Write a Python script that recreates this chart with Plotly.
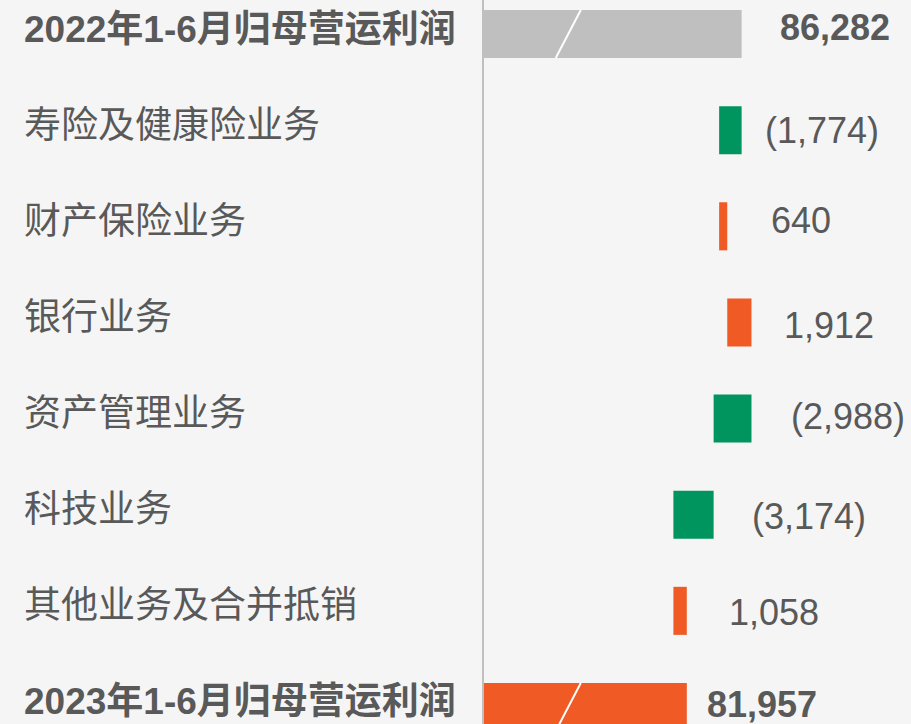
import plotly.graph_objects as go

# data (RMB million)
categories = [
    "2022年1-6月归母营运利润",
    "寿险及健康险业务",
    "财产保险业务",
    "银行业务",
    "资产管理业务",
    "科技业务",
    "其他业务及合并抵销",
    "2023年1-6月归母营运利润",
]
values = [86282, -1774, 640, 1912, -2988, -3174, 1058, 81957]
measures = ["total", "relative", "relative", "relative", "relative", "relative", "relative", "total"]
value_labels = ["86,282", "(1,774)", "640", "1,912", "(2,988)", "(3,174)", "1,058", "81,957"]

GRAY = "#BFBFBF"
GREEN = "#00945E"
ORANGE = "#F05A24"
TEXT = "#595959"
X_RANGE = [65950, 99650]
BREAK_AT = 72600  # where the broken-axis slash sits on the total bars

# build bases / lengths for a waterfall made of floating bars
bases, lengths, colors = [], [], []
running = 0
for i, (v, m) in enumerate(zip(values, measures)):
    if m == "total":
        bases.append(0)
        lengths.append(v)
        colors.append(GRAY if i == 0 else ORANGE)
        running = v
    else:
        bases.append(running)
        lengths.append(v)
        colors.append(ORANGE if v > 0 else GREEN)
        running += v

fig = go.Figure(go.Bar(
    y=categories,
    x=lengths,
    base=bases,
    orientation="h",
    width=0.5,
    marker=dict(color=colors, line=dict(width=0)),
    hoverinfo="skip",
))

label_font = "Liberation Sans, Arial, Noto Sans CJK SC"
gaps = [36, 21, 42, 31, 38, 36, 40, 18]
yshifts = [7, 0, 6, -3, 2, -2, -2, 2]
annotations = []
for i, cat in enumerate(categories):
    is_total = measures[i] == "total"
    txt = f"<b>{cat}</b>" if is_total else cat
    annotations.append(dict(
        x=22 / 911, xref="paper", y=cat, yref="y",
        text=txt, showarrow=False, xanchor="left", yanchor="middle",
        yshift=5, font=dict(family=label_font, size=37, color=TEXT),
    ))
    end = max(bases[i], bases[i] + lengths[i])
    vtxt = f"<b>{value_labels[i]}</b>" if is_total else value_labels[i]
    annotations.append(dict(
        x=end, xref="x", y=cat, yref="y",
        text=vtxt, showarrow=False, xanchor="left", yanchor="middle",
        xshift=gaps[i], yshift=yshifts[i],
        font=dict(family=label_font, size=36, color=TEXT),
    ))

shapes = []
half = 12.5 * (X_RANGE[1] - X_RANGE[0]) / 426
for i in (0, len(categories) - 1):
    shapes.append(dict(
        type="line", xref="x", yref="y",
        x0=BREAK_AT - half, y0=i + 0.25, x1=BREAK_AT + half, y1=i - 0.25,
        line=dict(color="white", width=2),
    ))

fig.update_layout(
    width=911,
    height=724,
    margin=dict(l=0, r=0, t=0, b=0),
    paper_bgcolor="#F5F5F5",
    plot_bgcolor="rgba(0,0,0,0)",
    showlegend=False,
    xaxis=dict(domain=[484 / 911, 1], range=X_RANGE, visible=False, fixedrange=True),
    yaxis=dict(
        range=[7.177, -0.354],
        showticklabels=False,
        showgrid=False,
        zeroline=False,
        showline=True,
        linecolor="#BFBFBF",
        linewidth=2,
        ticks="",
    ),
    annotations=annotations,
    shapes=shapes,
)

fig.write_html(
    "out.html",
    config={"displayModeBar": False},
    post_script="document.body.style.margin='0px';",
)
